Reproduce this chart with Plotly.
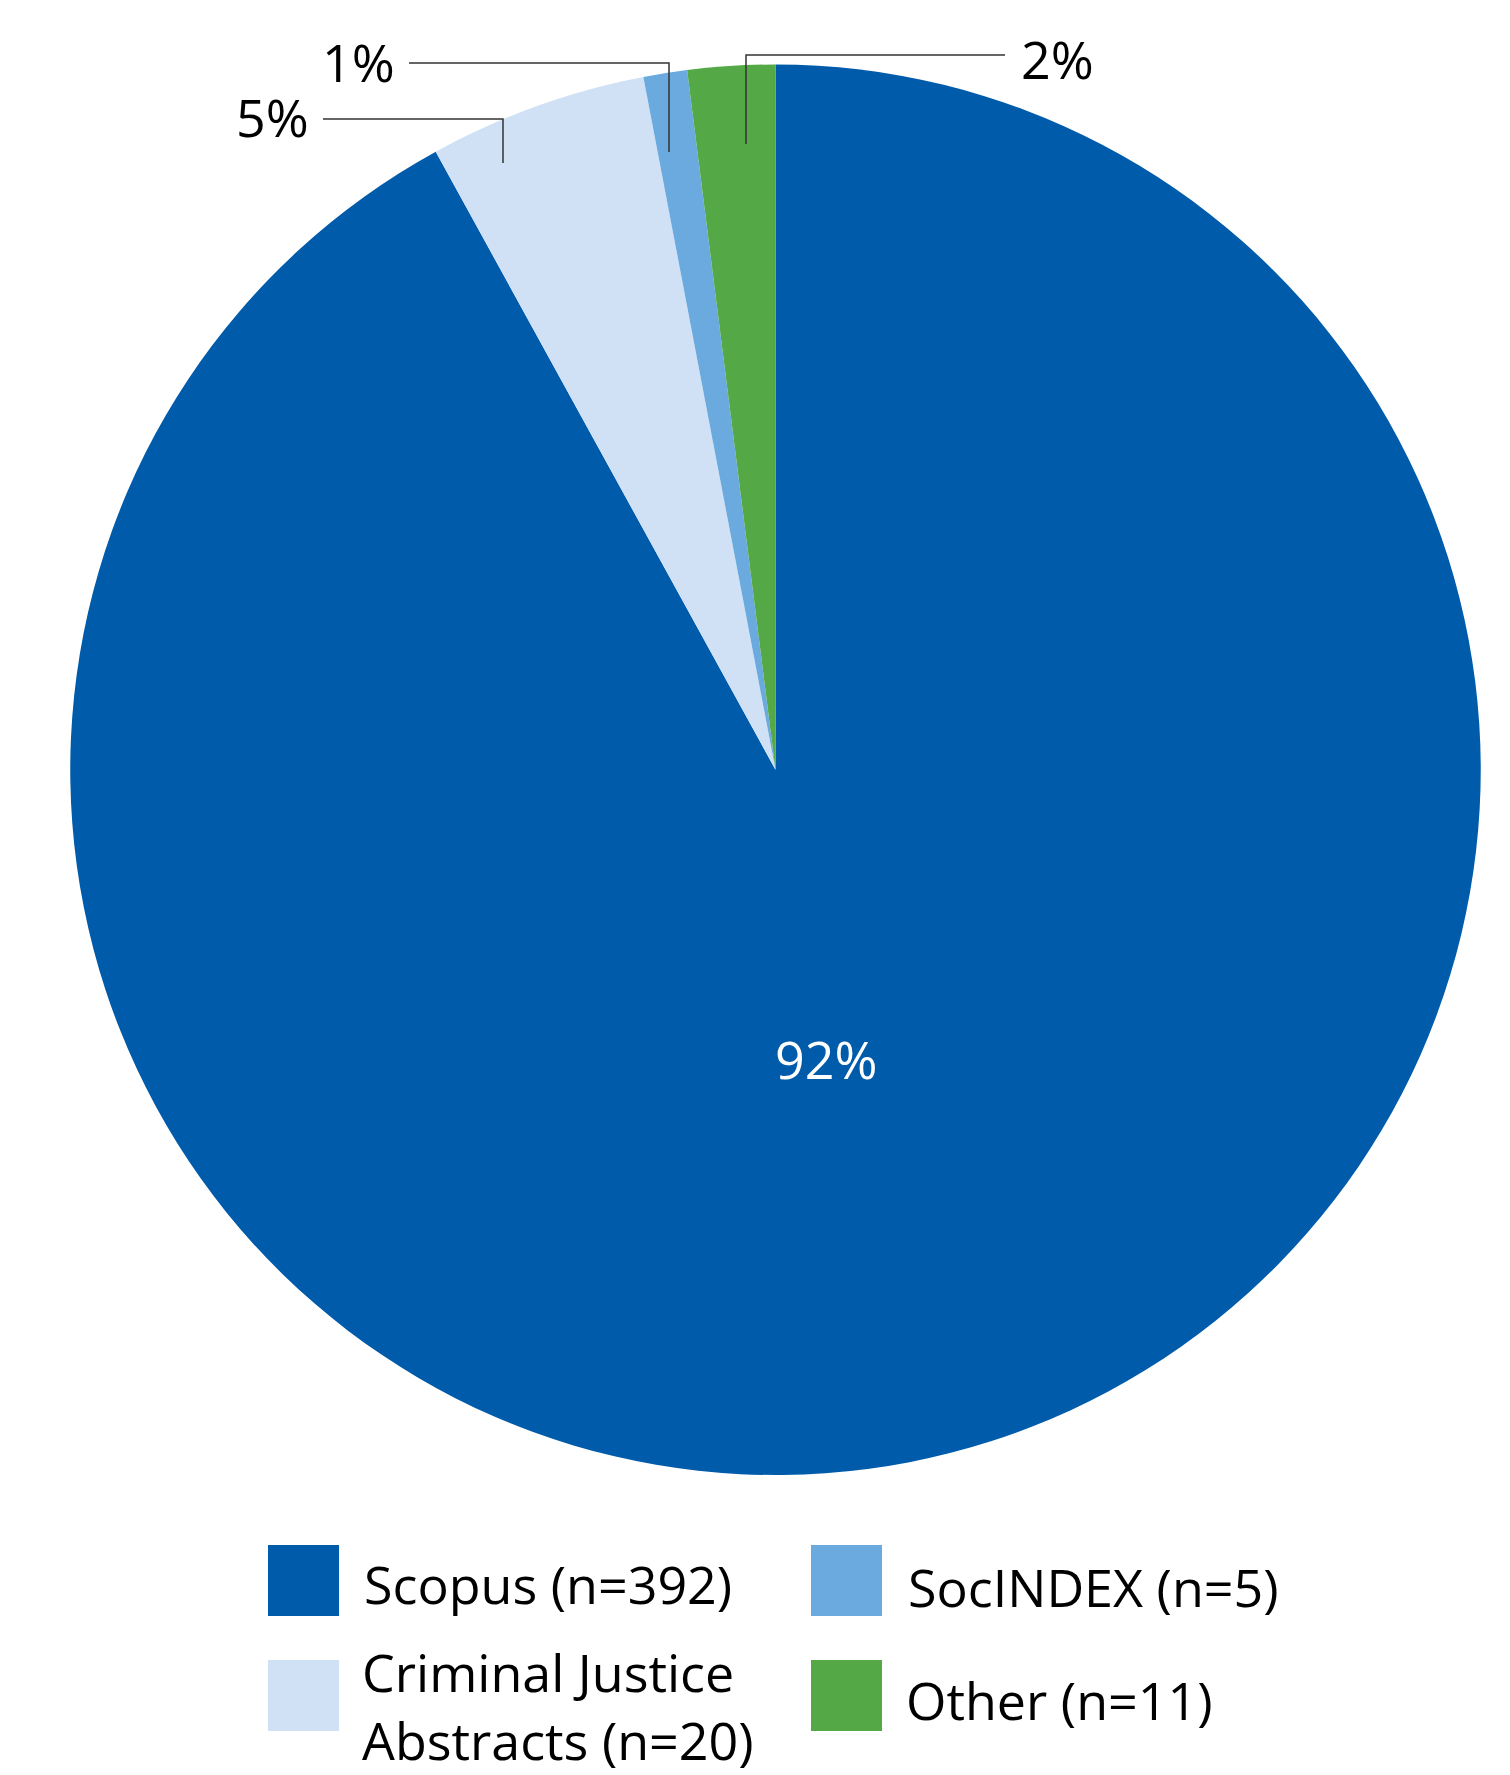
import plotly.graph_objects as go

# ---- data ----
sources = ["Scopus", "Criminal Justice Abstracts", "SocINDEX", "Other"]
counts = [392, 20, 5, 11]            # n shown in legend
shares = [92, 5, 1, 2]               # percentage shares drawn as slices
pct_labels = ["92%", "5%", "1%", "2%"]
legend_labels = ["Scopus (n=392)", "Criminal Justice<br>Abstracts (n=20)", "SocINDEX (n=5)", "Other (n=11)"]
colors = ["#005BAA", "#D0E1F5", "#6AAADF", "#54A946"]

W, H = 1510, 1775
FONT = "Open Sans"
FS = 52


def px(x):
    return x / W


def py(y):
    return 1 - y / H


fig = go.Figure()
fig.add_trace(go.Pie(
    labels=sources,
    values=shares,
    customdata=counts,
    sort=False,
    direction="clockwise",
    rotation=0,
    marker=dict(colors=colors, line=dict(width=0)),
    textinfo="none",
    hovertemplate="%{label}<br>%{value}%<br>n=%{customdata}<extra></extra>",
    showlegend=False,
    domain=dict(x=[px(70), px(1481)], y=[py(1475), py(64.5)]),
))

# inside label of the large slice
fig.add_annotation(x=px(826), y=py(1058), xref="paper", yref="paper",
                   text=pct_labels[0], showarrow=False, xanchor="center", yanchor="middle",
                   font=dict(family=FONT, size=FS, color="white"))

# leader lines + outside percentage labels
leaders = [
    # (label index, vertical x, bottom y, horizontal y, horizontal end x, text side)
    (1, 503, 163, 119, 323, "left"),
    (2, 669, 152, 63, 409, "left"),
    (3, 746, 144, 55, 1005, "right"),
]
for idx, vx, by, hy, ex, side in leaders:
    fig.add_shape(type="path",
                  path=f"M {px(vx)},{py(by)} L {px(vx)},{py(hy)} L {px(ex)},{py(hy)}",
                  xref="paper", yref="paper",
                  line=dict(color="#333333", width=1.5))
    if side == "left":
        fig.add_annotation(x=px(ex - 12), y=py(hy - 2), xref="paper", yref="paper",
                           text=pct_labels[idx], showarrow=False, xanchor="right", yanchor="middle",
                           font=dict(family=FONT, size=FS, color="black", weight=500))
    else:
        fig.add_annotation(x=px(ex + 14), y=py(hy + 4), xref="paper", yref="paper",
                           text=pct_labels[idx], showarrow=False, xanchor="left", yanchor="middle",
                           font=dict(family=FONT, size=FS, color="black", weight=500))

# custom 2x2 legend
legend_pos = [  # (swatch x0, swatch y0, text x, text y centre)
    (268, 1545, 362, 1583),
    (268, 1660, 360, 1705),
    (811, 1545, 906, 1586),
    (811, 1660, 904, 1699),
]
for i, (sx, sy, tx, ty) in enumerate(legend_pos):
    fig.add_shape(type="rect", xref="paper", yref="paper",
                  x0=px(sx), x1=px(sx + 71), y0=py(sy), y1=py(sy + 71),
                  fillcolor=colors[i], line=dict(width=0))
    fig.add_annotation(x=px(tx), y=py(ty), xref="paper", yref="paper",
                       text=legend_labels[i], showarrow=False, xanchor="left", yanchor="middle",
                       align="left",
                       font=dict(family=FONT, size=FS, color="black", weight=500))

fig.update_layout(
    width=W, height=H,
    margin=dict(l=0, r=0, t=0, b=0),
    paper_bgcolor="white",
    plot_bgcolor="white",
    showlegend=False,
)

fig.write_html("out.html")
